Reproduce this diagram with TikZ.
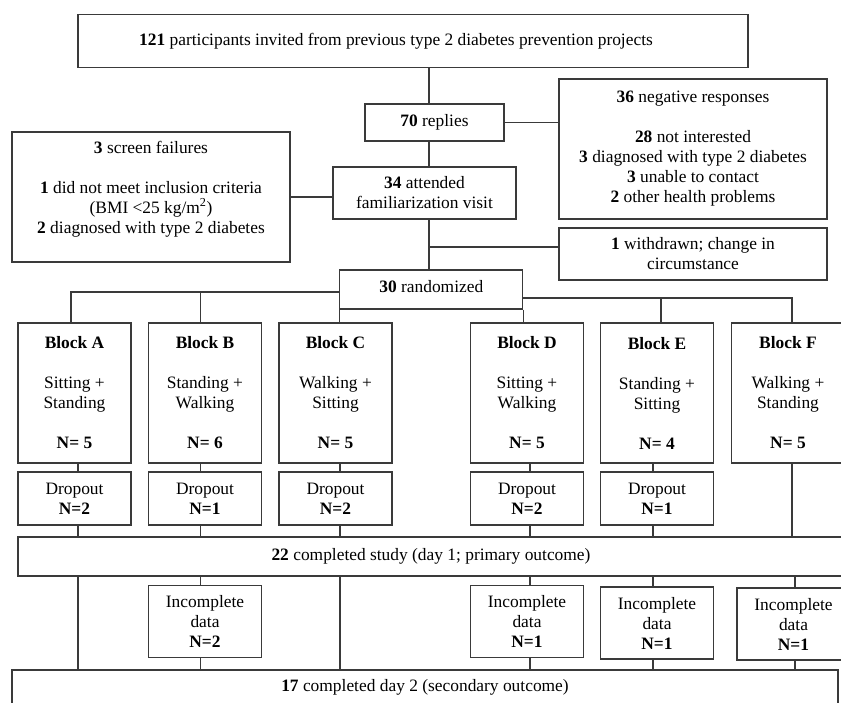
\documentclass[tikz,border=0pt]{standalone}
\usepackage{fontspec}
\setmainfont{Liberation Serif}
\definecolor{linec}{HTML}{3A3A3A}
\begin{document}
\begin{tikzpicture}[x=1pt,y=-1pt,
  box/.style={draw=linec, line width=1.3pt, rectangle, align=center, inner sep=0pt,
    font=\fontsize{17.4}{20}\selectfont, fill=white},
  conn/.style={draw=linec, line width=1.3pt}]
\useasboundingbox (0,0) rectangle (841,703);
\clip (0,0) rectangle (841,703);
% x positions of connectors
\foreach \n/\v in {xAt/71, xAb/78, xB/200.5, xC/340, xDb/530, xEt/661, xEb/653, xF/792, xFi/795, xM/429}
  {\coordinate (\n) at (\v,0);}
\coordinate (busL) at (0,292);
\coordinate (busR) at (0,298);
\coordinate (yW) at (0,247);
% top part
\node[box, minimum width=670, minimum height=53] (top) at (413,41)
  {\textbf{121} participants invited from previous type 2 diabetes prevention projects\hspace{34pt}\rule{0pt}{0pt}};
\node[box, minimum width=139, minimum height=37] (replies) at (434.5,122.5) {\textbf{70} replies};
\node[box, minimum width=268, minimum height=140] (neg) at (693,149)
  {\textbf{36} negative responses\\[20pt]\textbf{28} not interested\\\textbf{3} diagnosed with type 2 diabetes\\\textbf{3} unable to contact\\\textbf{2} other health problems};
\node[box, minimum width=278, minimum height=130] (screen) at (151,197)
  {\textbf{3} screen failures\\[20pt]\textbf{1} did not meet inclusion criteria\\(BMI <25 kg/m\textsuperscript{2})\\\textbf{2} diagnosed with type 2 diabetes\\\mbox{}};
\node[box, minimum width=183, minimum height=52] (att) at (424.5,193)
  {\textbf{34} attended\\familiarization visit};
\node[box, minimum width=268, minimum height=52] (wd) at (693,254)
  {\textbf{1} withdrawn; change in\\circumstance};
\node[box, minimum width=183, minimum height=39, text depth=6pt] (rand) at (431.3,289.5) {\textbf{30} randomized};
% blocks
\foreach \n/\cx/\t/\a/\b/\k in {
  A/74.5/Block A/Sitting +/Standing/5,
  B/205/Block B/Standing +/Walking/6,
  C/335.5/Block C/Walking +/Sitting/5,
  D/527/Block D/Sitting +/Walking/5,
  E/657/Block E/Standing +/Sitting/4,
  F/788/Block F/Walking +/Standing/5}
  {\node[box, minimum width=113, minimum height=140] (block\n) at (\cx,393)
    {\textbf{\t}\\[20pt]\a\\\b\\[20pt]\textbf{N= \k}};}
\foreach \n/\cx/\k in {A/74.5/2, B/205/1, C/335.5/2, D/527/2, E/657/1}
  {\node[box, minimum width=113, minimum height=53] (drop\n) at (\cx,498.5)
    {Dropout\\\textbf{N=\k}};}
\node[box, minimum width=826, minimum height=39] (c22) at (431,556.5)
  {\textbf{22} completed study (day 1; primary outcome)};
\foreach \n/\cx/\cy/\k in {B/205/621.5/2, D/527/621.5/1, E/657/623/1, F/793.5/624/1}
  {\node[box, minimum width=113, minimum height=72] (inc\n) at (\cx,\cy)
    {Incomplete\\data\\\textbf{N=\k}};}
\node[box, minimum width=826, minimum height=34] (c17) at (425,687)
  {\textbf{17} completed day 2 (secondary outcome)};
% connectors top
\draw[conn] (xM |- top.south) -- (xM |- replies.north);
\draw[conn] (replies.east) -- (replies.east -| neg.west);
\draw[conn] (xM |- replies.south) -- (xM |- att.north);
\draw[conn] (screen.east) -- (screen.east -| att.west);
\draw[conn] (xM |- att.south) -- (xM |- rand.north);
\draw[conn] (xM |- yW) -- (yW -| wd.west);
% randomization buses
\draw[conn] (busL -| rand.west) -- (busL -| xAt) -- (xAt |- blockA.north);
\draw[conn] (busL -| xB) -- (xB |- blockB.north);
\draw[conn] (rand.south west) -- (rand.south west |- blockC.north);
\draw[conn] (rand.south east) -- (rand.south east |- blockD.north);
\draw[conn] (busR -| rand.east) -- (busR -| xF) -- (xF |- blockF.north);
\draw[conn] (busR -| xEt) -- (xEt |- blockE.north);
% blocks to dropouts to c22
\foreach \n/\x in {A/xAb, B/xB, C/xC, D/xDb, E/xEb}
  {\draw[conn] (\x |- block\n.south) -- (\x |- drop\n.north);
   \draw[conn] (\x |- drop\n.south) -- (\x |- c22.north);}
\draw[conn] (xF |- blockF.south) -- (xF |- c22.north);
% c22 to c17
\draw[conn] (xAb |- c22.south) -- (xAb |- c17.north);
\draw[conn] (xC |- c22.south) -- (xC |- c17.north);
\foreach \n/\x in {B/xB, D/xDb, E/xEb, F/xFi}
  {\draw[conn] (\x |- c22.south) -- (\x |- inc\n.north);
   \draw[conn] (\x |- inc\n.south) -- (\x |- c17.north);}
\end{tikzpicture}
\end{document}
